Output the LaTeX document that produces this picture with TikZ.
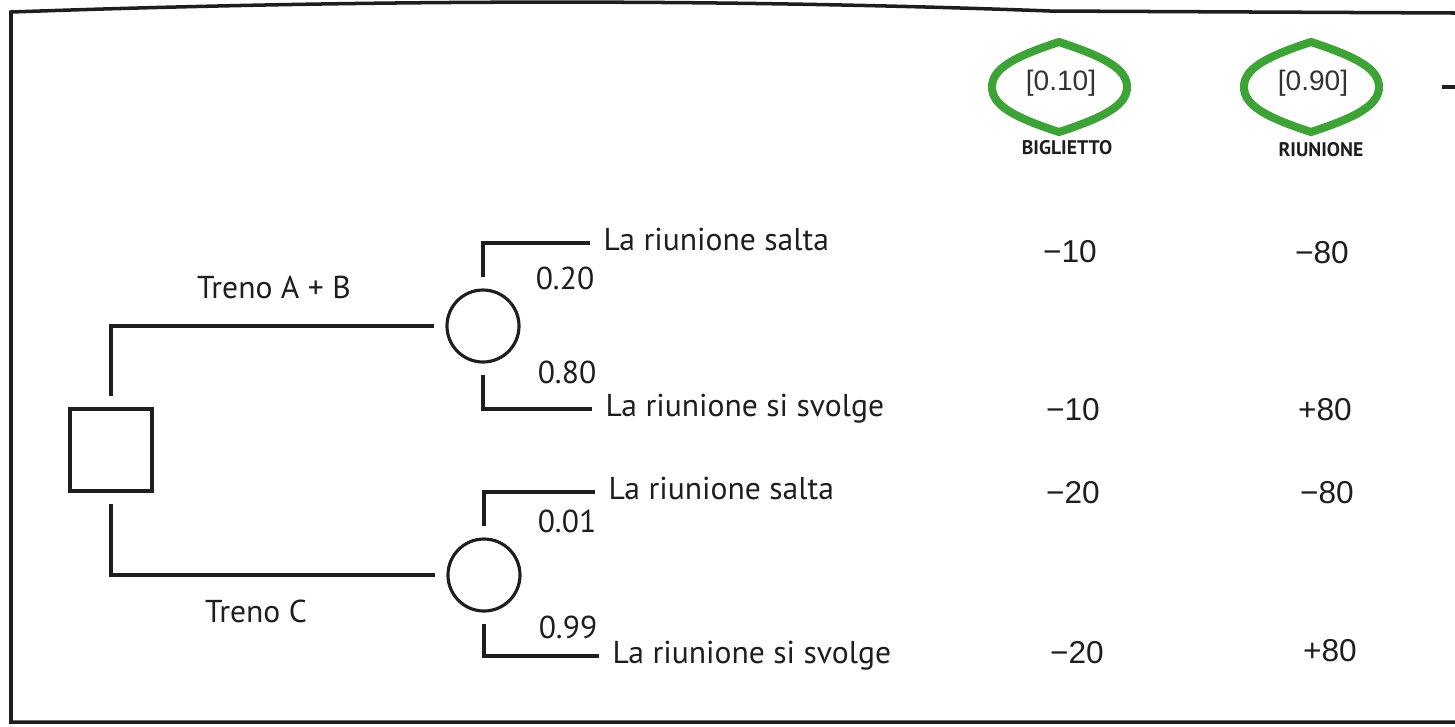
\documentclass[tikz,border=0pt]{standalone}
\usepackage{fontspec}
\setmainfont{PT Sans}
\newfontfamily\numfont{Liberation Sans}
\usepackage{xcolor}
\definecolor{markgreen}{HTML}{3DA337}
\definecolor{ink}{HTML}{1E1E1E}
\usetikzlibrary{positioning}
\tikzset{
  dnode/.style={draw=ink, line width=0.9pt, minimum size=8.2mm, inner sep=0pt, outer sep=1.3mm},
  cnode/.style={draw=ink, circle, line width=0.9pt, minimum size=7.2mm, inner sep=0pt, outer sep=1.3mm},
  br/.style={draw=ink, line width=0.9pt},
  txt/.style={text=ink, font=\fontsize{9}{10}\selectfont, inner sep=0pt},
  outc/.style={txt, anchor=west, inner sep=1.3mm, text height=1.9mm, text depth=0.4mm},
  pay/.style={text=ink, font=\numfont\fontsize{9}{10}\selectfont, inner sep=0pt},
  wt/.style={text=black!80, font=\numfont\fontsize{8}{9}\selectfont, inner sep=0pt},
  head/.style={text=ink, font=\bfseries\fontsize{5.6}{6}\selectfont, inner sep=0pt},
  ring/.style={draw=markgreen, line width=2.3pt},
  frame/.style={draw=ink, line width=1pt},
}

\begin{document}
\begin{tikzpicture}[x=0.1mm, y=-0.1mm]
  \useasboundingbox (0,0) rectangle (1455,726);
  % scanned frame
  \draw[frame] (1455,722) -- (11,722) -- (11,12)
    .. controls (350,0) and (700,-2) .. (1050,11) -- (1455,13);
  \draw[line width=1.3pt, ink] (1442,87) -- (1455,87);

  % weights and criteria
  \node[wt] (w1) at (1061,83) {[0.10]};
  \node[wt] (w2) at (1313,83) {[0.90]};
  \node[head] (h1) at (1067,148) {BIGLIETTO};
  \node[head] (h2) at (1321,150) {RIUNIONE};
  \foreach \w in {w1,w2}
    \draw[ring, shift={(\w.center)}] (-2,-41) .. controls (44,-26) and (66,-14) .. (66,4)
      .. controls (66,22) and (44,34) .. (-2,49)
      .. controls (-48,34) and (-69,22) .. (-69,4)
      .. controls (-69,-14) and (-48,-26) .. cycle;

  % decision and chance nodes
  \node[dnode] (dec) at (111,450) {};
  \node[cnode] (ab) at (483,326) {};
  \node[cnode] (cc) at (484,575) {};
  \draw[br] (dec.north) |- (ab.west);
  \draw[br] (dec.south) |- (cc.west);
  \node[txt] (tab) at (274,287) {Treno A + B};
  \node[txt] (tc) at (256,611) {Treno C};

  % outcomes
  \node[outc] (ab1) at (590,243) {La riunione salta};
  \node[outc] (ab2) at (592,409) {La riunione si svolge};
  \node[outc] (cc1) at (595,492) {La riunione salta};
  \node[outc] (cc2) at (599,656) {La riunione si svolge};
  \draw[br] (ab.north) |- (ab1.west);
  \draw[br] (ab.south) |- (ab2.west);
  \draw[br] (cc.north) |- (cc1.west);
  \draw[br] (cc.south) |- (cc2.west);
  \node[txt] (p1) at (565,278) {0.20};
  \node[txt] (p2) at (567,372) {0.80};
  \node[txt] (p3) at (567,521) {0.01};
  \node[txt] (p4) at (568,627) {0.99};

  % payoffs
  \node[pay] (v11) at (1070,252) {−10};
  \node[pay] (v12) at (1322,253) {−80};
  \node[pay] (v21) at (1073,410) {−10};
  \node[pay] (v22) at (1325,410) {+80};
  \node[pay] (v31) at (1073,493) {−20};
  \node[pay] (v32) at (1327,493) {−80};
  \node[pay] (v41) at (1077,653) {−20};
  \node[pay] (v42) at (1330,651) {+80};
\end{tikzpicture}
\end{document}
